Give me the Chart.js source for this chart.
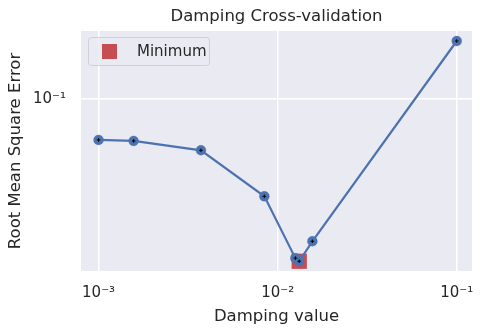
<!DOCTYPE html>
<html>
<head>
<meta charset="utf-8">
<script src="https://cdn.jsdelivr.net/npm/chart.js@4.4.0/dist/chart.umd.min.js"></script>
<style>
  html, body { margin: 0; padding: 0; background: #ffffff; }
  #wrap { width: 483px; height: 334px; }
</style>
</head>
<body>
<div id="wrap"><canvas id="myChart" width="483" height="334"></canvas></div>
<script>
/*data*/
const dampingValues = [0.001, 0.00157, 0.00373, 0.00843, 0.01256, 0.0132, 0.01563, 0.1];
const rmseValues = [0.0624, 0.0617, 0.0554, 0.0326, 0.0160, 0.01544, 0.01943, 0.195];
const minimumDamping = [0.0132];
const minimumRmse = [0.01544];
const xTickValues = [0.001, 0.01, 0.1];
const xTickLabels = ['10\u207B\u00B3', '10\u207B\u00B2', '10\u207B\u00B9'];
const yTickValues = [0.1];
const yTickLabels = ['10\u207B\u00B9'];

const blue = '#4C72B0';
const red = '#C44E52';
const textColor = '#262626';
const fontFamily = '"DejaVu Sans", sans-serif';

function toPoints(xs, ys) {
    return xs.map(function(x, i) { return { x: x, y: ys[i] }; });
}

/*plot background + legend box*/
const darkgrid = {
    id: 'darkgrid',
    beforeDraw: function(chart) {
        const a = chart.chartArea;
        const ctx = chart.ctx;
        ctx.save();
        ctx.fillStyle = '#EAEAF2';
        ctx.fillRect(a.left, a.top, a.right - a.left, a.bottom - a.top);
        ctx.restore();
    },
    afterDraw: function(chart) {
        const a = chart.chartArea;
        const ctx = chart.ctx;
        const ds = chart.data.datasets[0];
        const x = a.left + 7, y = a.top + 6, w = 121, h = 28;
        ctx.save();
        ctx.beginPath();
        ctx.roundRect(x + 0.5, y + 0.5, w, h, 3);
        ctx.fillStyle = 'rgba(234,234,242,0.8)';
        ctx.fill();
        ctx.strokeStyle = '#d0d0d6';
        ctx.lineWidth = 1;
        ctx.stroke();
        ctx.fillStyle = ds.backgroundColor;
        ctx.fillRect(x + 14, y + 7, 15, 15);
        ctx.fillStyle = textColor;
        ctx.font = '15px ' + fontFamily;
        ctx.textBaseline = 'middle';
        ctx.fillText(ds.label, x + 49, y + 15);
        ctx.restore();
    }
};

var ctx = document.getElementById('myChart').getContext('2d');

var chart = new Chart(ctx, {
    type: 'scatter',
    data: {
        datasets: [{
            label: 'Minimum',
            data: toPoints(minimumDamping, minimumRmse),
            backgroundColor: red,
            borderColor: red,
            pointStyle: 'rect',
            pointRadius: 10.8,
            borderWidth: 0,
            showLine: false,
            order: 3
        },
        {
            label: 'rmse',
            data: toPoints(dampingValues, rmseValues),
            backgroundColor: blue,
            borderColor: blue,
            borderWidth: 2.2,
            pointRadius: 5,
            pointBorderWidth: 0.5,
            pointBorderColor: 'rgba(76,114,176,0.6)',
            showLine: true,
            order: 2
        },
        {
            label: 'cross',
            data: toPoints(dampingValues, rmseValues),
            pointStyle: 'cross',
            pointRadius: 1.8,
            borderColor: '#000000',
            borderWidth: 1,
            showLine: false,
            order: 1
        }]
    },
    options: {
        responsive: false,
        animation: false,
        events: [],
        layout: { padding: { left: 0, right: 11, top: 0, bottom: 0 } },
        plugins: {
            legend: { display: false },
            tooltip: { enabled: false },
            title: {
                display: true,
                fullSize: false,
                text: 'Damping Cross-validation',
                color: textColor,
                font: { family: fontFamily, size: 16.5, weight: 'normal', lineHeight: 1.2 },
                padding: { top: 6.6, bottom: 4.6 }
            }
        },
        scales: {
            x: {
                type: 'logarithmic',
                min: 0.000798,
                max: 0.1217,
                border: { display: false },
                grid: { color: '#ffffff', lineWidth: 1.5, drawTicks: false },
                afterBuildTicks: function(scale) {
                    scale.ticks = xTickValues.map(function(v) { return { value: v }; });
                },
                afterFit: function(scale) {
                    scale.height = 63;
                    scale.paddingLeft = 0;
                    scale.paddingRight = 0;
                },
                ticks: {
                    color: textColor,
                    padding: 13,
                    maxRotation: 0,
                    font: { family: fontFamily, size: 15 },
                    callback: function(value) {
                        return xTickLabels[xTickValues.indexOf(value)];
                    }
                },
                title: {
                    display: true,
                    text: 'Damping value',
                    color: textColor,
                    font: { family: fontFamily, size: 16.5, lineHeight: 1.2 },
                    padding: { top: 0, bottom: 7 }
                }
            },
            y: {
                type: 'logarithmic',
                min: 0.0138,
                max: 0.2188,
                border: { display: false },
                grid: { color: '#ffffff', lineWidth: 1.5, drawTicks: false },
                afterBuildTicks: function(scale) {
                    scale.ticks = yTickValues.map(function(v) { return { value: v }; });
                },
                afterFit: function(scale) { scale.width = 81; },
                ticks: {
                    color: textColor,
                    padding: 15,
                    font: { family: fontFamily, size: 15 },
                    callback: function(value) {
                        return yTickLabels[yTickValues.indexOf(value)];
                    }
                },
                title: {
                    display: true,
                    text: 'Root Mean Square Error',
                    color: textColor,
                    font: { family: fontFamily, size: 16.5, lineHeight: 1.2 },
                    padding: { top: 6, bottom: 0 }
                }
            }
        }
    },
    plugins: [darkgrid]
});
</script>
</body>
</html>
